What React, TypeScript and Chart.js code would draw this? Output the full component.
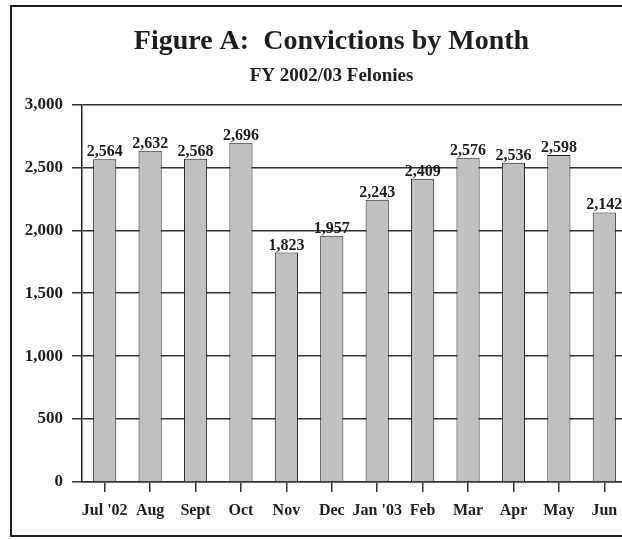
import React, { useEffect, useRef } from "react";
import { Chart, registerables } from "chart.js";

Chart.register(...registerables);

const months = ["Jul '02", "Aug", "Sept", "Oct", "Nov", "Dec", "Jan '03", "Feb", "Mar", "Apr", "May", "Jun"];
const convictions = [2564, 2632, 2568, 2696, 1823, 1957, 2243, 2409, 2576, 2536, 2598, 2142];
const yTicks = [0, 500, 1000, 1500, 2000, 2500, 3000];
const titleText = "Figure A:  Convictions by Month";
const subtitleText = "FY 2002/03 Felonies";

const FONT = '"Liberation Serif", "Times New Roman", serif';
const INK = "#1e1e1e";

const valueLabels = {
  id: "valueLabels",
  afterDatasetsDraw(chart: any) {
    const ctx = chart.ctx;
    const meta = chart.getDatasetMeta(0);
    const data = chart.data.datasets[0].data as number[];
    ctx.save();
    ctx.font = `bold 16px ${FONT}`;
    ctx.fillStyle = INK;
    ctx.textAlign = "center";
    ctx.textBaseline = "alphabetic";
    meta.data.forEach((el: any, i: number) => {
      ctx.fillText(data[i].toLocaleString("en-US"), el.x, el.y - 3);
    });
    ctx.restore();
  },
};

// let the y-axis tick labels use the space left of the layout padding (avoid clipping)
const widenYLabelArea = {
  id: "widenYLabelArea",
  afterLayout(chart: any) {
    const y = chart.scales.y;
    if (y) y.left = 0;
  },
};

export default function App() {
  const ref = useRef<HTMLCanvasElement | null>(null);

  useEffect(() => {
    if (!ref.current) return;
    const chart = new Chart(ref.current, {
      type: "bar",
      data: {
        labels: months,
        datasets: [
          {
            data: convictions,
            backgroundColor: "#c0c0c0",
            borderColor: "#1e1e1e",
            borderWidth: 1,
            categoryPercentage: 1,
            barPercentage: 0.51,
          },
        ],
      },
      options: {
        animation: false,
        responsive: false,
        devicePixelRatio: 1,
        layout: { padding: { left: 36, right: 33, top: 0, bottom: 0 } },
        plugins: {
          legend: { display: false },
          tooltip: { enabled: false },
          title: {
            display: true,
            text: titleText,
            color: INK,
            font: { family: FONT, size: 28, weight: "bold", lineHeight: 1.2 },
            padding: { top: 25, bottom: 0 },
          },
          subtitle: {
            display: true,
            text: subtitleText,
            color: INK,
            font: { family: FONT, size: 19, weight: "bold", lineHeight: 1.2 },
            padding: { top: 6, bottom: 17 },
          },
        },
        scales: {
          x: {
            afterFit: (s: any) => {
              s.height = 58;
            },
            grid: {
              drawOnChartArea: false,
              offset: false,
              drawTicks: true,
              tickLength: 10,
              color: "#333",
              lineWidth: 1.5,
            },
            border: { display: true, color: "#333", width: 1.5 },
            ticks: {
              color: INK,
              padding: 9,
              maxRotation: 0,
              autoSkip: false,
              font: { family: FONT, size: 16, weight: "bold", lineHeight: 1.2 },
            },
          },
          y: {
            min: 0,
            max: 3000,
            afterFit: (s: any) => {
              s.width = 46;
            },
            afterBuildTicks: (s: any) => {
              s.ticks = yTicks.map((v) => ({ value: v }));
            },
            grid: {
              color: "#333",
              lineWidth: 1.5,
              drawTicks: true,
              tickLength: 10,
            },
            border: { display: true, color: "#222", width: 1.5 },
            ticks: {
              color: INK,
              padding: 9,
              font: { family: FONT, size: 17, weight: "bold", lineHeight: 1.2 },
              callback: (v: any) => Number(v).toLocaleString("en-US"),
            },
          },
        },
      },
      plugins: [valueLabels, widenYLabelArea],
    });
    return () => chart.destroy();
  }, []);

  return (
    <div
      style={{
        position: "fixed",
        left: 0,
        top: 0,
        width: 622,
        height: 540,
        overflow: "hidden",
        background: "#ffffff",
      }}
    >
      <div
        style={{
          position: "absolute",
          left: 10,
          top: 5,
          width: 640,
          height: 532,
          border: "2px solid #1e1e1e",
          boxSizing: "border-box",
          background: "#fdfdfd",
        }}
      />
      <canvas
        ref={ref}
        width={660}
        height={540}
        style={{ position: "absolute", left: 0, top: 0, width: 660, height: 540 }}
      />
    </div>
  );
}
